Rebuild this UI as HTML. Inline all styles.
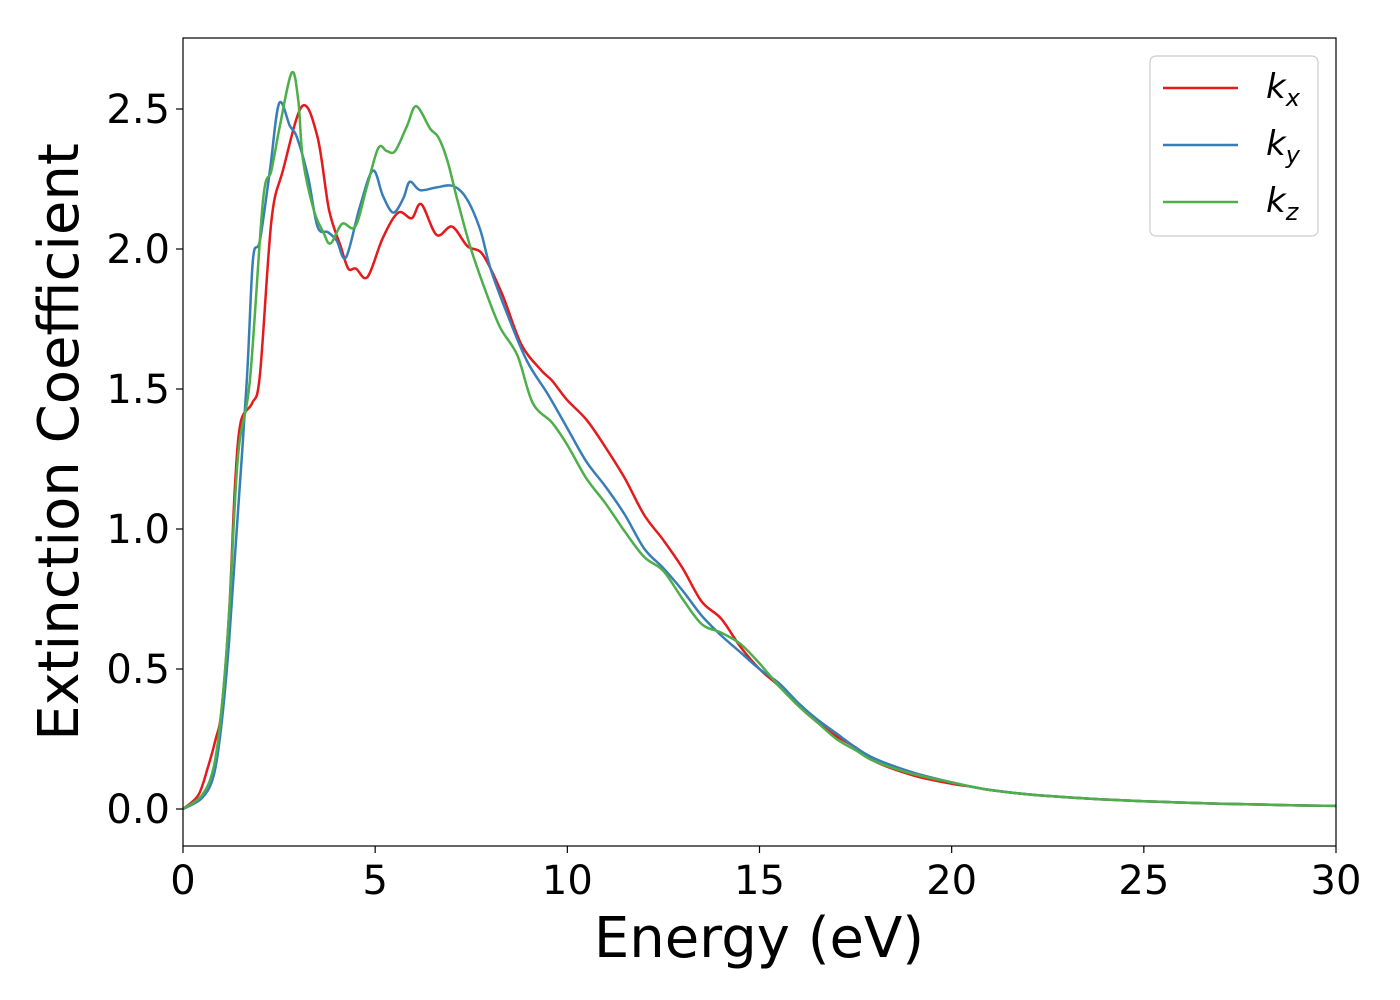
<!DOCTYPE html>
<html><head><meta charset="utf-8"><style>
html,body{margin:0;padding:0;background:#fff;}
svg{display:block;font-family:"DejaVu Sans","Liberation Sans",sans-serif;}
</style></head><body>
<svg id="chart" width="1400" height="1000" viewBox="0 0 1400 1000" xmlns="http://www.w3.org/2000/svg">
<rect width="1400" height="1000" fill="#fff"/>
<g id="ticks"></g>
<g id="series"></g>
<rect x="183" y="38" width="1153" height="808" fill="none" stroke="#000" stroke-width="1.2"/>
<text x="759" y="957" font-size="56" text-anchor="middle">Energy (eV)</text>
<text transform="translate(78,442) rotate(-90)" font-size="56" text-anchor="middle">Extinction Coefficient</text>
<g>
<rect x="1150" y="56" width="168" height="180" rx="6" fill="#fff" stroke="#ccc" stroke-width="1.2"/>
<g><line x1="1163" y1="88" x2="1238" y2="88" stroke="#e41a1c" stroke-width="2.5"/><text x="1266" y="98" font-size="34" font-style="italic">k<tspan font-size="24" dy="8">x</tspan></text></g>
<g><line x1="1163" y1="145" x2="1238" y2="145" stroke="#377eb8" stroke-width="2.5"/><text x="1266" y="155" font-size="34" font-style="italic">k<tspan font-size="24" dy="8">y</tspan></text></g>
<g><line x1="1163" y1="202" x2="1238" y2="202" stroke="#4daf4a" stroke-width="2.5"/><text x="1266" y="212" font-size="34" font-style="italic">k<tspan font-size="24" dy="8">z</tspan></text></g>
</g>
</svg>
<script>
const xTicks=[0,5,10,15,20,25,30];
const yTicks=[0.0,0.5,1.0,1.5,2.0,2.5];
const tail=[[20.5,0.08],[21,0.068],[22,0.052],[23,0.042],[24,0.034],[25,0.028],[26,0.023],[27,0.019],[28,0.016],[29,0.013],[30,0.011]];
const kx=[[0,0],[0.4,0.05],[0.65,0.15],[0.85,0.25],[1.0,0.35],[1.2,0.7],[1.35,1.15],[1.5,1.38],[1.8,1.45],[2.0,1.55],[2.3,2.1],[2.6,2.28],[3.1,2.51],[3.5,2.40],[3.8,2.14],[4.1,2.01],[4.3,1.93],[4.5,1.93],[4.8,1.90],[5.2,2.04],[5.6,2.13],[5.95,2.11],[6.2,2.16],[6.6,2.05],[7.0,2.08],[7.4,2.01],[7.8,1.98],[8.3,1.84],[8.8,1.66],[9.3,1.57],[9.6,1.53],[10,1.46],[10.5,1.39],[11,1.29],[11.5,1.18],[12,1.05],[12.5,0.96],[13,0.86],[13.5,0.74],[14,0.68],[14.5,0.58],[15,0.50],[15.5,0.44],[16,0.37],[16.5,0.31],[17,0.26],[17.5,0.22],[18,0.17],[19,0.12],[20,0.09]].concat(tail);
const ky=[[0,0],[0.5,0.04],[0.8,0.12],[1.0,0.3],[1.2,0.6],[1.4,1.0],[1.66,1.53],[1.82,1.96],[2.0,2.03],[2.26,2.28],[2.5,2.52],[2.78,2.44],[2.96,2.40],[3.25,2.26],[3.5,2.08],[3.77,2.06],[4.0,2.03],[4.24,1.97],[4.6,2.15],[4.94,2.28],[5.2,2.19],[5.47,2.13],[5.73,2.18],[5.9,2.24],[6.17,2.21],[6.6,2.22],[7.03,2.225],[7.38,2.18],[7.73,2.07],[8.0,1.93],[8.43,1.77],[8.95,1.6],[9.5,1.48],[10,1.36],[10.5,1.24],[11,1.15],[11.5,1.05],[12,0.93],[12.5,0.86],[13,0.78],[13.5,0.69],[14,0.62],[14.5,0.56],[15,0.50],[15.5,0.45],[16,0.38],[16.5,0.32],[17,0.27],[17.5,0.22],[18,0.18],[19,0.13],[20,0.095]].concat(tail);
const kz=[[0,0],[0.5,0.05],[0.8,0.15],[1.0,0.35],[1.2,0.7],[1.43,1.26],[1.74,1.53],[2.08,2.17],[2.3,2.28],[2.52,2.44],[2.83,2.63],[3.0,2.53],[3.12,2.32],[3.4,2.14],[3.65,2.06],[3.84,2.02],[4.14,2.09],[4.48,2.08],[4.78,2.22],[5.08,2.36],[5.3,2.35],[5.52,2.35],[5.83,2.44],[6.07,2.51],[6.43,2.43],[6.64,2.40],[6.87,2.32],[7.13,2.18],[7.47,2.01],[7.9,1.84],[8.25,1.72],[8.7,1.62],[9.1,1.45],[9.6,1.38],[10,1.3],[10.5,1.18],[11,1.09],[11.5,0.99],[12,0.9],[12.5,0.85],[13,0.75],[13.5,0.66],[14,0.63],[14.5,0.59],[15,0.52],[15.5,0.44],[16,0.37],[16.5,0.31],[17,0.25],[17.5,0.21],[18,0.17],[19,0.125],[20,0.095]].concat(tail);
const NS="http://www.w3.org/2000/svg";
const X=v=>183+v*(1153/30);
const Y=v=>809-v*280;
const tg=document.getElementById('ticks');
xTicks.forEach(t=>{
  const l=document.createElementNS(NS,'line');
  
  
  l.setAttribute('x1',X(t));l.setAttribute('x2',X(t));l.setAttribute('y1',846);l.setAttribute('y2',853);l.setAttribute('stroke','#000');l.setAttribute('stroke-width','1.2');
  tg.appendChild(l);
  const tx=document.createElementNS(NS,'text');
  
  
  tx.setAttribute('x',X(t));tx.setAttribute('y',894);tx.setAttribute('font-size','40');tx.setAttribute('text-anchor','middle');
  tx.textContent=String(t);
  tg.appendChild(tx);
});
yTicks.forEach(t=>{
  const l=document.createElementNS(NS,'line');
  
  
  l.setAttribute('x1',176);l.setAttribute('x2',183);l.setAttribute('y1',Y(t));l.setAttribute('y2',Y(t));l.setAttribute('stroke','#000');l.setAttribute('stroke-width','1.2');
  tg.appendChild(l);
  const tx=document.createElementNS(NS,'text');
  
  
  tx.setAttribute('x',170);tx.setAttribute('y',Y(t)+14);tx.setAttribute('font-size','40');tx.setAttribute('text-anchor','end');
  tx.textContent=t.toFixed(1);
  tg.appendChild(tx);
});
function path(pts){
  const p=pts.map(d=>[X(d[0]),Y(d[1])]);
  let s='M'+p[0][0]+','+p[0][1];
  for(let i=0;i<p.length-1;i++){
    const p0=p[Math.max(0,i-1)],p1=p[i],p2=p[i+1],p3=p[Math.min(p.length-1,i+2)];
    const c1=[p1[0]+(p2[0]-p0[0])/6,p1[1]+(p2[1]-p0[1])/6];
    const c2=[p2[0]-(p3[0]-p1[0])/6,p2[1]-(p3[1]-p1[1])/6];
    s+=' C'+c1[0].toFixed(1)+','+c1[1].toFixed(1)+' '+c2[0].toFixed(1)+','+c2[1].toFixed(1)+' '+p2[0].toFixed(1)+','+p2[1].toFixed(1);
  }
  return s;
}
const sg=document.getElementById('series');
[[kx,'#e41a1c','series-kx'],[ky,'#377eb8','series-ky'],[kz,'#4daf4a','series-kz']].forEach(([d,c,n])=>{
  const e=document.createElementNS(NS,'path');
  
  
  e.setAttribute('d',path(d));e.setAttribute('fill','none');e.setAttribute('stroke',c);e.setAttribute('stroke-width','2.5');
  sg.appendChild(e);
});
</script>
</body></html>
